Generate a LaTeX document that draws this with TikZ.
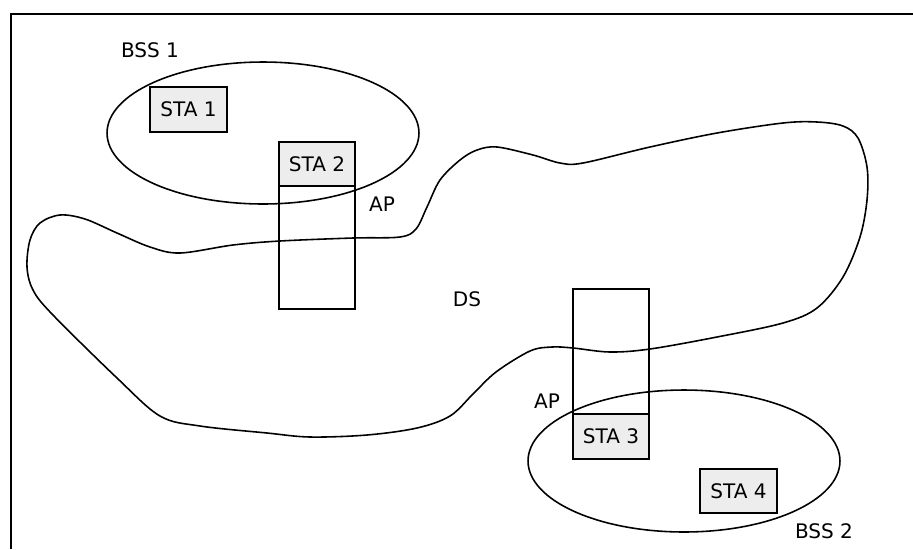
\documentclass[tikz,border=0pt]{standalone}
\usepackage{fontspec}
\setmainfont{DejaVu Sans}
\usetikzlibrary{shapes.geometric}
\begin{document}
\begin{tikzpicture}[x=0.02cm,y=-0.02cm,
  every node/.style={font=\fontsize{11.4}{13}\selectfont},
  sta/.style={draw, line width=1.1pt, fill=black!7, minimum width=1.53cm, minimum height=0.89cm, inner sep=0pt},
  apbox/.style={draw, line width=1.1pt, minimum width=1.52cm, inner sep=0pt},
  curve/.style={line width=0.9pt},
  bssarea/.style={draw, curve, ellipse, minimum width=6.24cm, minimum height=2.84cm, inner sep=0pt},
  frame/.style={line width=1.4pt},
  label/.style={inner sep=0pt}]
\useasboundingbox (0,0) rectangle (913,549);
% outer frame (left and top edges)
\coordinate (fl) at (11,549);
\coordinate (fc) at (11,14);
\coordinate (fr) at (913,14);
\draw[frame] (fl) -- (fc) -- (fr);

% distribution system
\draw[curve] plot[smooth cycle, tension=0.55] coordinates {
  (460,160) (440,180) (427,207) (416,229) (400,237) (353,238) (280,241)
  (233,245) (180,253) (150,247) (117,233) (85,219) (60,215) (40,223)
  (30,240) (27,267) (33,290) (52,314) (117,378) (160,416)
  (200,426) (267,433) (310,437) (367,435) (417,428) (450,416) (473,394)
  (496,372) (530,351) (552,347) (573,348) (610,352) (650,349)
  (717,337) (783,323) (817,308) (843,277) (860,237) (867,200) (867,167)
  (858,138) (843,126) (817,122) (783,123) (717,133) (650,147) (583,163)
  (560,163) (533,155) (497,147) (477,150)};

% basic service sets
\node[bssarea] (bss1) at (263,133) {};
\node[bssarea] (bss2) at (684,461) {};

% access points
\node[apbox, minimum height=2.46cm] (ap1) at (317,247.5) {};
\node[apbox, minimum height=2.5cm] (ap2) at (611,351.5) {};

% stations
\node[sta] (sta1) at (188.5,109.5) {STA 1};
\node[sta] (sta2) at (317,164) {STA 2};
\node[sta] (sta3) at (611,436.5) {STA 3};
\node[sta] (sta4) at (738.5,491) {STA 4};

% labels
\node[label] (lbss1) at (150,50) {BSS 1};
\node[label] (lbss2) at (824,531) {BSS 2};
\node[label] (lap1) at (382,204) {AP};
\node[label] (lap2) at (547,401) {AP};
\node[label] (lds) at (467,299) {DS};
\end{tikzpicture}
\end{document}
